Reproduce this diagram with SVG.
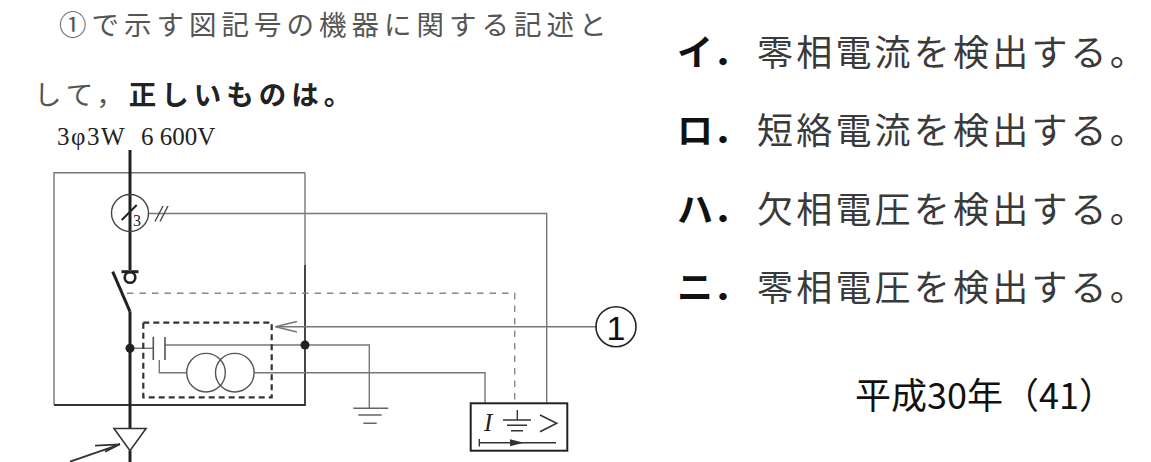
<svg xmlns="http://www.w3.org/2000/svg" width="1151" height="462" viewBox="0 0 1151 462">
<style>
.q{font-family:"Noto Sans CJK JP","Noto Sans CJK SC",sans-serif;font-size:27.5px;fill:#555;letter-spacing:5px}
.qb{font-weight:700;fill:#222}
.lab{font-family:"Noto Sans CJK JP",sans-serif;font-size:36px;font-weight:700;fill:#111}
.opt{font-family:"Noto Sans CJK JP",sans-serif;font-size:36px;fill:#3a3a3a;letter-spacing:3.2px}
.yr{font-family:"Noto Sans CJK JP",sans-serif;font-size:36px;fill:#111}
.ser{font-family:"Liberation Serif",serif;fill:#222}
.main{stroke:#222;stroke-width:3;fill:none}
.thin{stroke:#777;stroke-width:1.4;fill:none}
.dark{stroke:#333;stroke-width:1.8;fill:none}
.dash{stroke:#888;stroke-width:1.4;fill:none;stroke-dasharray:6.5 6}
.dbox{stroke:#333;stroke-width:2.2;fill:none;stroke-dasharray:6 4}
.dot{fill:#222}
</style>
<rect width="1151" height="462" fill="#fff"/>

<g id="question">
<text class="q" x="59" y="35">①で示す図記号の機器に関する記述と</text>
<text class="q" x="34" y="105">して，<tspan class="qb">正しいものは。</tspan></text>
</g>

<g id="options">
<text class="lab" x="677" y="66">イ．</text>
<text class="opt" x="757" y="66">零相電流を検出する。</text>
<text class="lab" x="677" y="144">ロ．</text>
<text class="opt" x="757" y="144">短絡電流を検出する。</text>
<text class="lab" x="677" y="223">ハ．</text>
<text class="opt" x="757" y="223">欠相電圧を検出する。</text>
<text class="lab" x="677" y="301">ニ．</text>
<text class="opt" x="757" y="301">零相電圧を検出する。</text>
</g>

<g id="year">
<text class="yr" x="855" y="409">平成30年（41）</text>
</g>

<g id="supply-label">
<text class="ser" x="57" y="145" font-size="25" letter-spacing="1.5">3φ3W<tspan x="141" letter-spacing="0">6 600V</tspan></text>
</g>

<g id="cabinet">
<path class="thin" d="M305,172.7 H54 V405"/>
<path class="thin" d="M305,172.7 V265"/>
<path class="dark" d="M305,265 V405 H54"/>
</g>

<g id="connectors">
<path class="main" d="M130,150 V270"/>
<path class="main" d="M130,311.5 V428.5"/>
<path class="main" d="M130,450.5 V462"/>
<path class="thin" d="M149,213.5 H546.7 V403.3"/>
<path class="dash" d="M127,293.3 H514.7 V403.3"/>
<path class="thin" d="M130,348.3 H153.3"/>
<path class="thin" d="M165,345 H369.3 V408.3"/>
<path class="thin" d="M159.3,360 V372.7 H187"/>
<path class="thin" d="M254,372.7 H485 V403.3"/>
<path class="thin" d="M275.5,326.7 H596"/>
<path class="thin" d="M297,321.5 L275.5,326.7 L297,332"/>
<path class="dark" stroke-width="1.4" d="M70,461.7 L120,444.3 M95,445.7 L120,444.3 M105,451.7 L120,444.3"/>
</g>

<g id="zct">
<circle cx="130" cy="213" r="18.5" fill="none" stroke="#444" stroke-width="1.4"/>
<path d="M121.7,220 L136.7,205" stroke="#222" stroke-width="2"/>
<text class="ser" x="133" y="226" font-size="16">3</text>
<path d="M155,221.5 L163,206 M160,221.5 L168,206" stroke="#444" stroke-width="1.4"/>
</g>

<g id="switch">
<path class="main" stroke-width="2.6" d="M121.5,271.7 H138.5"/>
<circle cx="130" cy="277.5" r="5.3" fill="none" stroke="#222" stroke-width="2.6"/>
<path class="main" d="M112.7,271.7 L130,311.7"/>
</g>

<g id="zpd">
<rect class="dbox" x="143.3" y="322.7" width="128.4" height="74.6"/>
<path d="M153.3,336.7 V360 M165,337 V360" stroke="#555" stroke-width="1.6"/>
<circle cx="206" cy="372.7" r="19.3" fill="none" stroke="#555" stroke-width="1.4"/>
<circle cx="234.8" cy="372.7" r="19.3" fill="none" stroke="#555" stroke-width="1.4"/>
</g>

<g id="junctions">
<circle class="dot" cx="130" cy="348.3" r="4.5"/>
<circle class="dot" cx="305" cy="345" r="4.5"/>
</g>

<g id="ground">
<path d="M353.3,408.3 H388.3 M358.3,415 H381.7 M363.3,423.3 H376.7" stroke="#666" stroke-width="1.4"/>
</g>

<g id="arrester">
<path d="M114,428.5 H146 L130,450.7 Z" fill="#fff" stroke="#333" stroke-width="1.6"/>
</g>

<g id="relay">
<rect x="470.7" y="403.3" width="96.6" height="47.4" fill="#fff" stroke="#222" stroke-width="2"/>
<text class="ser" x="484" y="431" font-size="25" font-style="italic">I</text>
<path d="M517.3,410 V420 M503,420 H531 M507,425.3 H527 M511,430.7 H523" stroke="#333" stroke-width="1.4"/>
<path d="M540,415 L556.7,423.3 L540,431.7" fill="none" stroke="#333" stroke-width="1.6"/>
<path d="M479.3,442.7 H556 M479.3,439 V446.5" stroke="#333" stroke-width="1.4"/>
<path d="M524,442.7 L510,439.2 L510,446.2 Z" fill="#333"/>
</g>

<g id="label-1">
<circle cx="616" cy="326.7" r="20" fill="#fff" stroke="#222" stroke-width="1.6"/>
<text x="616" y="339.5" font-family="Liberation Sans, sans-serif" font-size="34" fill="#111" text-anchor="middle">1</text>
</g>
</svg>
